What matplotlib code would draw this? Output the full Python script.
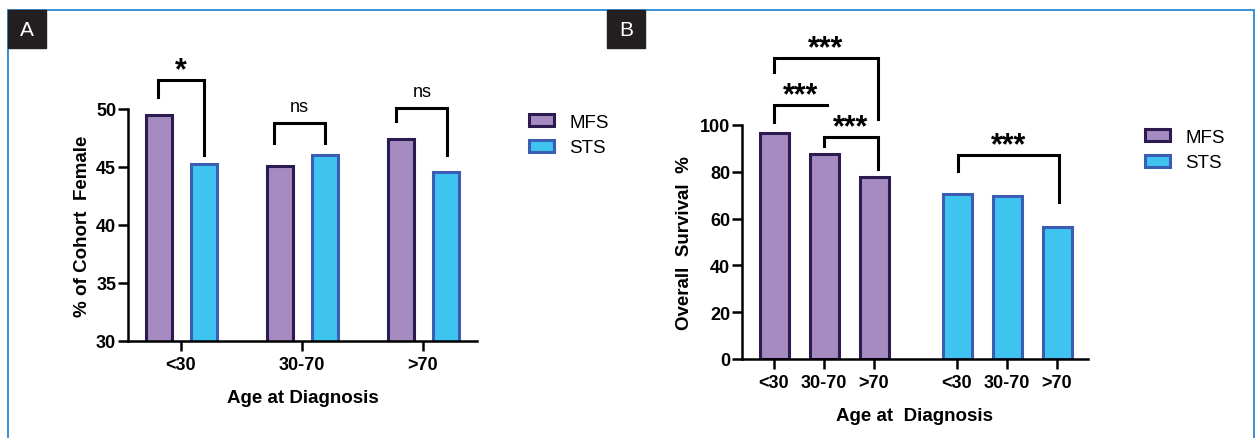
import numpy as np
import matplotlib.pyplot as plt
from matplotlib.patches import Rectangle

ages = ['<30', '30-70', '>70']
female_mfs = [49.5, 45.05, 47.45]
female_sts = [45.3, 46.0, 44.6]
survival_mfs = [96.4, 87.6, 77.6]
survival_sts = [70.5, 69.8, 56.5]

# brackets: x left, x right, top, left leg end, right leg end, label
brackets_a = [(-0.19, 0.19, 52.5, 51.0, 46.0, '*'),
              (0.77, 1.19, 48.8, 47.05, 47.05, 'ns'),
              (1.78, 2.20, 50.1, 49.0, 46.0, 'ns')]
brackets_b = [(0.0, 2.08, 128.6, 122.5, 102.6, '***'),
              (0.0, 1.05, 108.5, 101.4, 108.5, '***'),
              (1.0, 2.08, 95.0, 91.2, 81.2, '***'),
              (3.68, 5.70, 87.2, 80.5, 67.0, '***')]

mfs_face, mfs_edge = '#a68bc0', '#2c1b50'
sts_face, sts_edge = '#3fc3ef', '#3c5db4'
tick_font = ['Liberation Sans Narrow', 'Liberation Sans', 'DejaVu Sans']
plt.rcParams['font.family'] = ['Liberation Sans', 'DejaVu Sans']

W, H = 1256, 439
fig = plt.figure(figsize=(W / 100, H / 100), dpi=100)


def px_axes(l, t, r, b):
    return fig.add_axes([l / W, 1 - b / H, (r - l) / W, (b - t) / H])


def style(ax):
    for s in ['top', 'right']:
        ax.spines[s].set_visible(False)
    for s in ['left', 'bottom']:
        ax.spines[s].set_linewidth(1.8)
    ax.tick_params(width=1.8, length=7)
    ax.tick_params(axis='y', pad=1.5)
    ax.tick_params(axis='x', pad=4)
    for lab in ax.get_xticklabels() + ax.get_yticklabels():
        lab.set_family(tick_font)
        lab.set_fontweight('bold')
        lab.set_fontsize(13)


def draw_brackets(ax, brackets):
    for x1, x2, top, l_end, r_end, lab in brackets:
        ax.plot([x1, x1, x2, x2], [l_end, top, top, r_end], color='black',
                lw=2.2, clip_on=False, solid_joinstyle='miter')
        if lab == 'ns':
            ax.annotate(lab, ((x1 + x2) / 2, top), xytext=(0, 8.5),
                        textcoords='offset points', ha='center', va='baseline',
                        fontsize=13, annotation_clip=False)
        else:
            ax.annotate(lab, ((x1 + x2) / 2, top), xytext=(0, 1),
                        textcoords='offset points', ha='center', va='baseline',
                        fontsize=22, fontweight='bold', annotation_clip=False)


# panel A
axA = px_axes(128, 110, 477, 342)
x = np.arange(len(ages))
axA.bar(x - 0.185, female_mfs, 0.215, color=mfs_face, edgecolor=mfs_edge,
        linewidth=2.2, label='MFS', zorder=2)
axA.bar(x + 0.19, female_sts, 0.215, color=sts_face, edgecolor=sts_edge,
        linewidth=2.2, label='STS', zorder=2)
axA.set_ylim(30, 50)
axA.set_xlim(-0.438, 2.446)
axA.set_yticks([30, 35, 40, 45, 50])
axA.set_xticks(x)
axA.set_xticklabels(ages)
style(axA)
axA.set_ylabel('% of Cohort  Female', fontsize=13.5, fontweight='bold', labelpad=4)
axA.set_xlabel('Age at Diagnosis', fontsize=13.5, fontweight='bold', labelpad=11)
draw_brackets(axA, brackets_a)
axA.legend(loc='upper left', bbox_to_anchor=(529 / W, 1 - 115 / H),
           bbox_transform=fig.transFigure, frameon=False, fontsize=13.5,
           borderpad=0, borderaxespad=0, handlelength=1.35, handleheight=0.6,
           handletextpad=0.8, labelspacing=0.45)

# panel B
axB = px_axes(742, 126, 1088, 360)
xb_mfs = np.arange(3)
xb_sts = np.arange(3) + 3.66
axB.bar(xb_mfs, survival_mfs, 0.58, color=mfs_face, edgecolor=mfs_edge,
        linewidth=2.2, label='MFS', zorder=2)
axB.bar(xb_sts, survival_sts, 0.58, color=sts_face, edgecolor=sts_edge,
        linewidth=2.2, label='STS', zorder=2)
axB.set_ylim(0, 100)
axB.set_xlim(-0.64, 6.28)
axB.set_yticks([0, 20, 40, 60, 80, 100])
axB.set_xticks(np.concatenate([xb_mfs, xb_sts]))
axB.set_xticklabels(ages + ages)
style(axB)
axB.set_ylabel('Overall  Survival  %', fontsize=13.5, fontweight='bold', labelpad=5)
axB.set_xlabel('Age at  Diagnosis', fontsize=13.5, fontweight='bold', labelpad=11)
draw_brackets(axB, brackets_b)
axB.legend(loc='upper left', bbox_to_anchor=(1145 / W, 1 - 130 / H),
           bbox_transform=fig.transFigure, frameon=False, fontsize=13.5,
           borderpad=0, borderaxespad=0, handlelength=1.35, handleheight=0.6,
           handletextpad=0.8, labelspacing=0.45)

# frame and panel letters
fig.add_artist(Rectangle((8 / W, -0.1), 1246 / W, 1.1 - 11 / H, transform=fig.transFigure,
                         fill=False, edgecolor='#3a8fd4', linewidth=1.4))
for lx, letter in [(8, 'A'), (607, 'B')]:
    fig.add_artist(Rectangle((lx / W, 1 - 49 / H), 38 / W, 38 / H,
                             transform=fig.transFigure, color='#231f20'))
    fig.text((lx + 19) / W, 1 - 30 / H, letter, color='white', fontsize=15,
             family=['Liberation Sans Narrow', 'Liberation Sans'],
             ha='center', va='center')

fig.savefig('out.png', dpi=100)
